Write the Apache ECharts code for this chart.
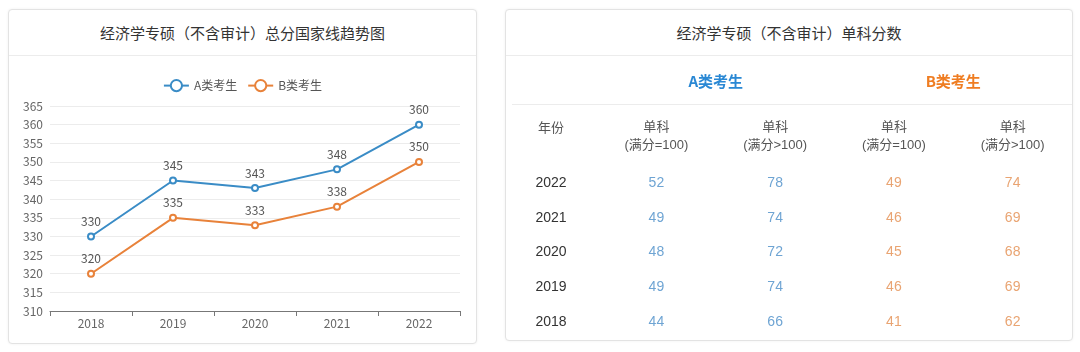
<!DOCTYPE html>
<html>
<head>
<meta charset="utf-8">
<script src="https://cdn.jsdelivr.net/npm/echarts@6/dist/echarts.min.js"></script>
<style>
html, body { margin: 0; padding: 0; width: 1080px; height: 352px; background: #fff; overflow: hidden; font-family: 'Noto Sans CJK SC', sans-serif; }
.card { position: absolute; box-sizing: border-box; border: 1px solid #e3e3e3; border-radius: 4px; background: #fff; box-shadow: 0 0 3px rgba(0,0,0,0.06); }
.head { position: absolute; left: 0; top: 0; right: 0; height: 45px; border-bottom: 1px solid #ececec; text-align: center; line-height: 45px; font-size: 15px; color: #333; }
.sep { position: absolute; left: 6px; right: 0; top: 94px; border-top: 1px solid #ececec; }
.chart { position: absolute; left: 0; top: 0; }
</style>
</head>
<body>
<div class="card" style="left:8px;top:9px;width:469px;height:335px">
  <div class="head">经济学专硕（不含审计）总分国家线趋势图</div>
  <div class="chart" id="trend" style="width:467px;height:333px"></div>
</div>
<div class="card" style="left:505px;top:9px;width:568px;height:332px">
  <div class="head">经济学专硕（不含审计）单科分数</div>
  <div class="sep"></div>
  <div class="chart" id="table" style="width:566px;height:330px"></div>
</div>
<script>
// 总分国家线
var years = ['2018', '2019', '2020', '2021', '2022'];
var scoreA = [330, 345, 343, 348, 360];
var scoreB = [320, 335, 333, 338, 350];
var yMin = 310, yMax = 365, yStep = 5;

// 单科分数表
var tableYears = ['2022', '2021', '2020', '2019', '2018'];
var groups = ['A类考生', 'B类考生'];
var columns = ['单科\n(满分=100)', '单科\n(满分>100)', '单科\n(满分=100)', '单科\n(满分>100)'];
var aEq100 = [52, 49, 48, 49, 44];
var aGt100 = [78, 74, 72, 74, 66];
var bEq100 = [49, 46, 45, 46, 41];
var bGt100 = [74, 69, 68, 69, 62];

var blue = '#3a8cc6';
var orange = '#e8823a';

var trendChart = echarts.init(document.getElementById('trend'));
trendChart.setOption({
    animation: false,
    textStyle: { fontFamily: 'Noto Sans CJK SC' },
    legend: {
        top: 64,
        left: 'center',
        itemWidth: 25,
        itemHeight: 14,
        itemGap: 10,
        data: ['A类考生', 'B类考生'],
        textStyle: { color: '#555', fontSize: 12 }
    },
    grid: { left: 41, right: 16, top: 96, bottom: 32, outerBoundsMode: 'none' },
    xAxis: {
        type: 'category',
        data: years,
        boundaryGap: true,
        axisLine: { show: true, lineStyle: { color: '#777' } },
        axisTick: { show: true, length: 5, lineStyle: { color: '#777' } },
        axisLabel: { color: '#666', fontSize: 12, margin: 6 }
    },
    yAxis: {
        type: 'value',
        min: yMin,
        max: yMax,
        interval: yStep,
        axisLine: { show: false },
        axisTick: { show: false },
        axisLabel: { color: '#666', fontSize: 12, margin: 7 },
        splitLine: { lineStyle: { color: '#ececec' } }
    },
    series: [{
        name: 'A类考生',
        type: 'line',
        data: scoreA,
        symbol: 'emptyCircle',
        symbolSize: 6,
        color: blue,
        lineStyle: { width: 2 },
        label: { show: true, position: 'top', color: '#555', fontSize: 12 }
    }, {
        name: 'B类考生',
        type: 'line',
        data: scoreB,
        symbol: 'emptyCircle',
        symbolSize: 6,
        color: orange,
        lineStyle: { width: 2 },
        label: { show: true, position: 'top', color: '#555', fontSize: 12 }
    }]
});

// 每列一组数值 -> [列, 行, 值]
function buildCells(startCol, lists) {
    var out = [];
    lists.forEach(function (vals, k) {
        vals.forEach(function (v, r) {
            out.push([startCol + k, r, v]);
        });
    });
    return out;
}

var numFont = "'Liberation Sans', 'Noto Sans CJK SC'";
var tableChart = echarts.init(document.getElementById('table'));
tableChart.setOption({
    animation: false,
    textStyle: { fontFamily: numFont },
    grid: { left: 91, right: 0, top: 156, bottom: 1, outerBoundsMode: 'none' },
    xAxis: [{
        type: 'category',
        position: 'top',
        data: columns,
        axisLine: { show: false },
        axisTick: { show: false },
        splitLine: { show: false },
        axisLabel: { interval: 0, color: '#555', fontSize: 13, lineHeight: 18, margin: 12, fontFamily: numFont }
    }, {
        type: 'category',
        position: 'top',
        offset: 62,
        data: groups,
        axisLine: { show: false },
        axisTick: { show: false },
        splitLine: { show: false },
        axisLabel: {
            interval: 0, fontSize: 15, fontWeight: 'bold', margin: 15,
            fontFamily: 'Noto Sans CJK SC',
            color: function (v) { return v === groups[0] ? '#2a88d4' : '#ef7d22'; }
        }
    }],
    yAxis: {
        type: 'category',
        inverse: true,
        data: tableYears,
        axisLine: { show: false },
        axisTick: { show: false },
        splitLine: { show: false },
        axisLabel: { align: 'center', margin: 46, color: '#333', fontSize: 14, fontFamily: numFont }
    },
    graphic: [{
        type: 'text',
        x: 45,
        y: 117,
        style: { text: '年份', fill: '#555', fontSize: 13, align: 'center', verticalAlign: 'middle', fontFamily: 'Noto Sans CJK SC' }
    }],
    series: [{
        type: 'scatter',
        silent: true,
        symbolSize: 1,
        itemStyle: { color: 'rgba(0,0,0,0)' },
        data: buildCells(0, [aEq100, aGt100]),
        label: {
            show: true, position: 'inside', color: '#4a8dc8', fontSize: 14,
            formatter: function (p) { return p.value[2]; }
        }
    }, {
        type: 'scatter',
        silent: true,
        symbolSize: 1,
        itemStyle: { color: 'rgba(0,0,0,0)' },
        data: buildCells(2, [bEq100, bGt100]),
        label: {
            show: true, position: 'inside', color: '#e38d4f', fontSize: 14,
            formatter: function (p) { return p.value[2]; }
        }
    }]
});
</script>
</body>
</html>
